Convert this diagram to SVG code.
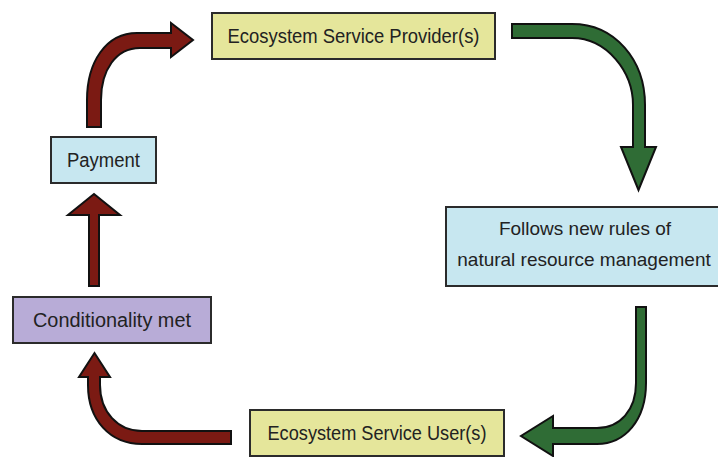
<svg xmlns="http://www.w3.org/2000/svg" width="718" height="457" viewBox="0 0 718 457">
  <style>
    .box { stroke: #2b2b2b; stroke-width: 2; }
    .yellow { fill: #e5e69b; }
    .blue { fill: #c7e7f0; }
    .purple { fill: #b8acd7; }
    .lbl { font-family: "Liberation Sans", Arial, sans-serif; font-size: 20px; fill: #222222; text-anchor: middle; }
    .sm { font-size: 19px; }
    .red { fill: #7b1a13; stroke: #111; stroke-width: 2; stroke-linejoin: miter; }
    .green { fill: #2f6c35; stroke: #111; stroke-width: 2; stroke-linejoin: miter; }
  </style>
  <rect x="0" y="0" width="718" height="457" fill="#ffffff"/>

  <g id="connectors">
    <path class="red" d="M87,127 L87,100 C87,62 106,33 137,33 L171,33 L171,23 L193,40 L171,57 L171,48 L140,48 C116,48 101,70 101,100 L101,127 Z"/>
    <path class="green" d="M512,24 L572,24 C615,24 645,60 645,105 L645,147 L656,147 L638.5,190 L621,147 L633,147 L633,105 C633,72 607,38 572,38 L512,38 Z"/>
    <path class="green" d="M636,307 L646,307 L646,383 C646,420 625,444 597,444 L553,444 L553,456 L521,436 L553,416 L553,428 L597,428 C620,428 636,410 636,383 Z"/>
    <path class="red" d="M231,431 L231,444 L142,444 C110,444 88,420 88,385 L88,377 L79,377 L94.5,353 L110,377 L100,377 L100,385 C100,412 118,431 142,431 Z"/>
    <path class="red" d="M89,286 L89,215 L68,215 L94,194 L120,215 L99,215 L99,286 Z"/>
  </g>

  <g id="provider">
    <rect class="box yellow" x="212" y="13" width="283" height="46"/>
    <text class="lbl" x="353.5" y="43" textLength="252" lengthAdjust="spacingAndGlyphs">Ecosystem Service Provider(s)</text>
  </g>

  <g id="follows">
    <rect class="box blue" x="446" y="207" width="290" height="79"/>
    <text class="lbl sm" x="585" y="235">Follows new rules of</text>
    <text class="lbl sm" x="584" y="266">natural resource management</text>
  </g>

  <g id="user">
    <rect class="box yellow" x="250" y="410" width="254" height="46"/>
    <text class="lbl" x="377" y="440" textLength="219" lengthAdjust="spacingAndGlyphs">Ecosystem Service User(s)</text>
  </g>

  <g id="conditionality">
    <rect class="box purple" x="13" y="297" width="198" height="46"/>
    <text class="lbl" x="112" y="327" textLength="158" lengthAdjust="spacingAndGlyphs">Conditionality met</text>
  </g>

  <g id="payment">
    <rect class="box blue" x="51" y="137" width="105" height="46"/>
    <text class="lbl" x="103.5" y="167" textLength="73" lengthAdjust="spacingAndGlyphs">Payment</text>
  </g>
</svg>
